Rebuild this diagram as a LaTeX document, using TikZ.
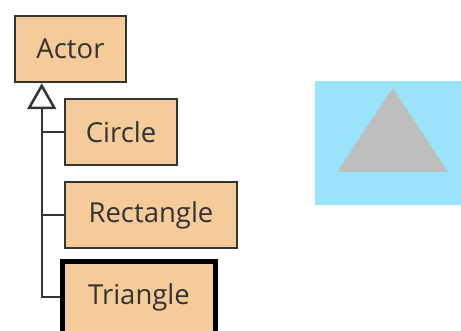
\documentclass[tikz,border=0pt]{standalone}
\usepackage{fontspec}
\setmainfont{Open Sans}
\usetikzlibrary{arrows.meta}
\definecolor{peach}{HTML}{F5CB99}
\definecolor{edge}{HTML}{333333}
\definecolor{skyc}{HTML}{99E4FA}
\definecolor{greyt}{HTML}{BEBEBE}
\tikzset{
  cls/.style={draw=edge, line width=2.5pt, fill=peach, inner sep=0pt, text=edge,
    font=\fontsize{27.5}{30}\selectfont, anchor=center},
  conn/.style={draw=edge, line width=2.5pt},
}
\begin{document}
\begin{tikzpicture}[x=1pt,y=-1pt]
\clip (0,0) rectangle (461,331);
\fill[white] (0,0) rectangle (461,331);
\node[cls, minimum width=111pt, minimum height=66pt] (actor) at (70.5,49) {Actor};
\node[cls, minimum width=112pt, minimum height=66pt] (circ) at (121,132) {Circle};
\node[cls, minimum width=172pt, minimum height=66pt] (rect) at (151,215) {Rectangle};
\node[cls, draw=black, line width=5pt, minimum width=153pt, minimum height=76pt] (tri) at (139,300) {};
\node[cls, draw=none, fill=none] (tritext) at (139,297) {Triangle};
\coordinate (ah) at ([xshift=28pt]actor.south west);
\coordinate (tj) at (tri.west |- tritext);
\draw[conn] (circ.west) -- (circ.west -| ah);
\draw[conn] (rect.west) -- (rect.west -| ah);
\draw[conn, -{Triangle[open, length=26pt, width=29pt, line width=2.5pt, fill=white]}] (tj) -| (ah);
\fill[skyc] (315,81) rectangle (461,205);
\fill[greyt] (392.7,88) -- (337,172) -- (448,172) -- cycle;
\end{tikzpicture}
\end{document}
